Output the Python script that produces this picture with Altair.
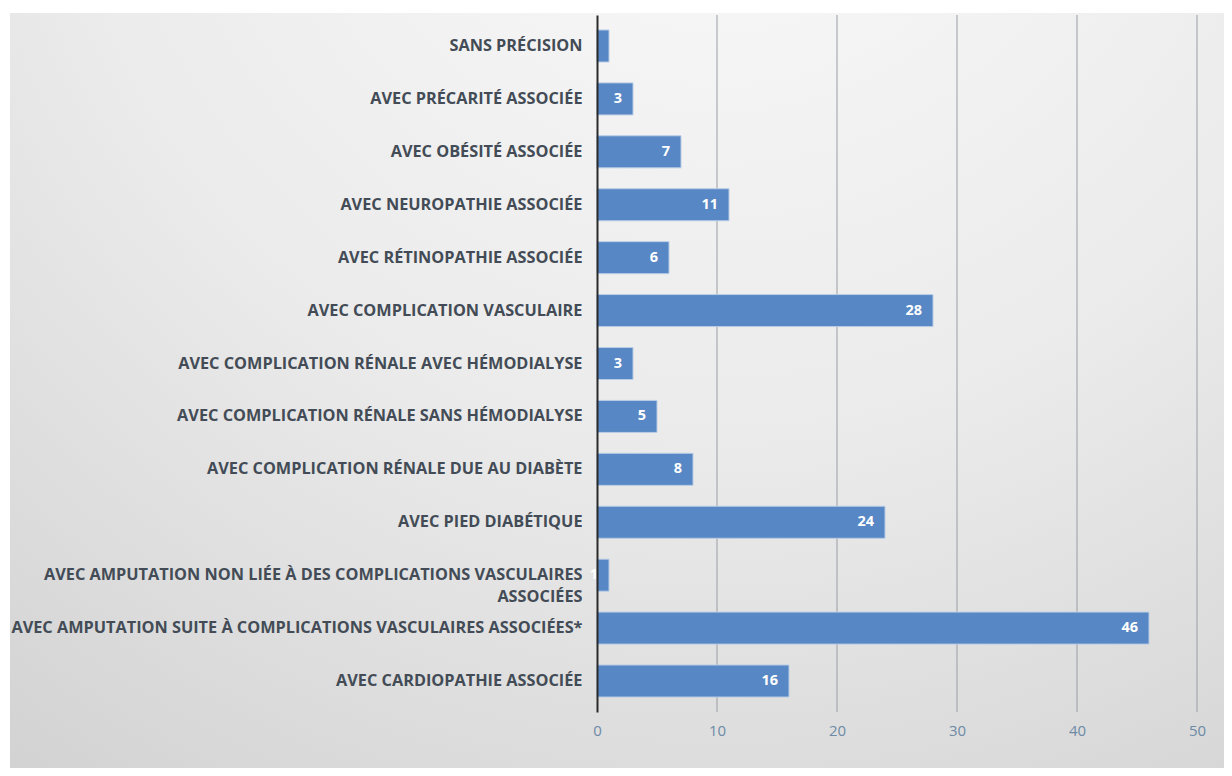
import altair as alt
import pandas as pd

categories = [
    "SANS PRÉCISION",
    "AVEC PRÉCARITÉ ASSOCIÉE",
    "AVEC OBÉSITÉ ASSOCIÉE",
    "AVEC NEUROPATHIE ASSOCIÉE",
    "AVEC RÉTINOPATHIE ASSOCIÉE",
    "AVEC COMPLICATION VASCULAIRE",
    "AVEC COMPLICATION RÉNALE AVEC HÉMODIALYSE",
    "AVEC COMPLICATION RÉNALE SANS HÉMODIALYSE",
    "AVEC COMPLICATION RÉNALE DUE AU DIABÈTE",
    "AVEC PIED DIABÉTIQUE",
    "AVEC AMPUTATION NON LIÉE À DES COMPLICATIONS VASCULAIRES|ASSOCIÉES",
    "AVEC AMPUTATION SUITE À COMPLICATIONS VASCULAIRES ASSOCIÉES*",
    "AVEC CARDIOPATHIE ASSOCIÉE",
]
values = [1, 3, 7, 11, 6, 28, 3, 5, 8, 24, 1, 46, 16]
bar_labels = ["", "3", "7", "11", "6", "28", "3", "5", "8", "24", "1", "46", "16"]
x_ticks = [0, 10, 20, 30, 40, 50]
grid_values = [10, 20, 30, 40, 50]

df = pd.DataFrame({"cat": categories, "val": values, "lab": bar_labels})
grid_df = pd.DataFrame({"g": grid_values})

W, H = 600, 697

bg = alt.Chart(alt.Data(values=[{}])).mark_rect(
    color=alt.RadialGradient(
        gradient="radial",
        stops=[
            alt.GradientStop(offset=0, color="#fbfbfb"),
            alt.GradientStop(offset=0.5, color="#ebebeb"),
            alt.GradientStop(offset=1, color="#cdcdcd"),
        ],
        x1=0.55, y1=0.0, r1=0.0,
        x2=0.55, y2=0.0, r2=1.05,
    )
).encode(
    x=alt.value(-587), x2=alt.value(700),
    y=alt.value(-2), y2=alt.value(780),
)

xscale = alt.Scale(domain=[0, 50], nice=False)
yscale = alt.Scale(paddingInner=0.395, paddingOuter=0.283)

grid = alt.Chart(grid_df).mark_rule(color="#999ea3", strokeWidth=1).encode(
    x=alt.X("g:Q", scale=xscale),
)

base = alt.Chart(df).encode(
    y=alt.Y(
        "cat:N",
        sort=categories,
        scale=yscale,
        title=None,
        axis=alt.Axis(
            labelExpr="split(datum.label, '|')",
            labelFont="Open Sans",
            labelFontSize=16.3,
            labelFontWeight="bold",
            labelColor="#434c56",
            labelPadding=15,
            labelLimit=700,
            labelLineHeight=22,
            ticks=False,
            domainColor="#2b2b2b",
            domainWidth=2,
            zindex=1,
        ),
    )
)

bars = base.mark_bar(color="#5787c4", stroke="#b9cde6", strokeWidth=1).encode(
    x=alt.X(
        "val:Q",
        scale=xscale,
        title=None,
        axis=alt.Axis(
            values=x_ticks,
            grid=False,
            ticks=False,
            domain=False,
            labelFlush=False,
            labelFont="Open Sans",
            labelFontSize=15,
            labelColor="#6d8aa6",
            labelPadding=11,
            zindex=1,
        ),
    )
)

text = base.mark_text(
    align="right", baseline="middle", dx=-11, color="white",
    font="Open Sans", fontSize=14.5, fontWeight="bold",
).encode(x=alt.X("val:Q", scale=xscale), text="lab:N")

chart = alt.layer(bg, grid, bars, text).properties(
    width=W, height=H,
    autosize=alt.AutoSizeParams(type="none"),
    padding={"left": 589, "top": 7, "right": 27, "bottom": 56},
).configure_view(stroke=None).configure(background="white")

chart.save("out.html", embed_options={"renderer": "svg", "actions": False})
